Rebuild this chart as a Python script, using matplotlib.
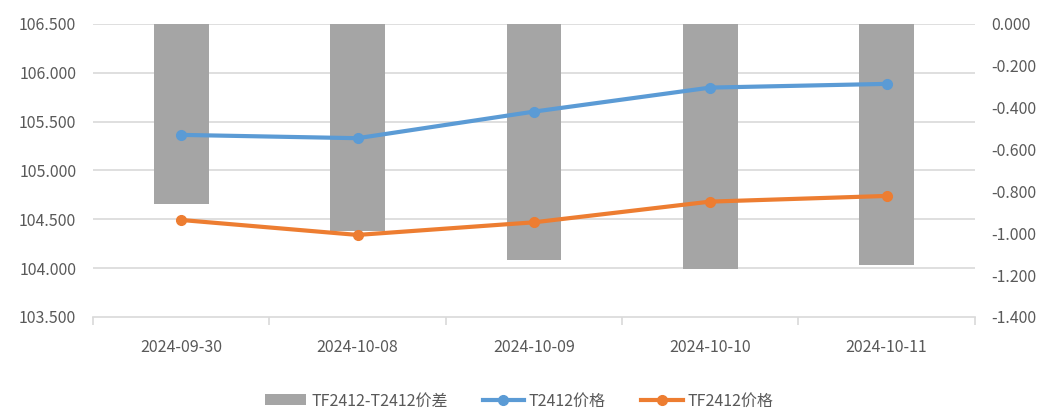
import matplotlib.pyplot as plt
from matplotlib.ticker import FormatStrFormatter, FuncFormatter, FixedLocator
import numpy as np

plt.rcParams['font.family'] = ['Noto Sans CJK SC', 'DejaVu Sans']

# data
dates = ['2024-09-30', '2024-10-08', '2024-10-09', '2024-10-10', '2024-10-11']
t_price = [105.364, 105.330, 105.602, 105.848, 105.886]
tf_price = [104.493, 104.340, 104.469, 104.681, 104.739]
spread = [-0.862, -0.990, -1.128, -1.170, -1.150]

grey_text = '#595959'
grid_col = '#d9d9d9'

fig = plt.figure(figsize=(10.38, 4.12), dpi=100)
ax = fig.add_axes([0.0896, 0.2306, 0.8494, 0.7114])
ax2 = ax.twinx()

x = np.arange(len(dates))

# bars on the right axis
ax2.bar(x, spread, width=0.31, color='#a5a5a5', label='TF2412-T2412价差', zorder=1)
ax2.set_ylim(-1.4, 0.0)
ax2.set_yticks(np.arange(-1.4, 0.001, 0.2))
ax2.yaxis.set_major_formatter(FuncFormatter(lambda v, p: '%.3f' % (0.0 if abs(v) < 1e-9 else v)))

# lines on the left axis (drawn above bars)
ax.set_zorder(ax2.get_zorder() + 1)
ax.patch.set_visible(False)
ax.plot(x, t_price, color='#5b9bd5', lw=3, marker='o', ms=7, label='T2412价格')
ax.plot(x, tf_price, color='#ed7d31', lw=3, marker='o', ms=7, label='TF2412价格')
ax.set_ylim(103.5, 106.5)
ax.set_yticks(np.arange(103.5, 106.51, 0.5))
ax.yaxis.set_major_formatter(FormatStrFormatter('%.3f'))

# gridlines from the left axis, behind everything
for v in np.arange(104.0, 106.51, 0.5):
    ax2.axhline(-1.4 + (v - 103.5) / 3.0 * 1.4, color=grid_col, lw=1.2, zorder=0)

ax.set_xlim(-0.5, len(dates) - 0.5)
ax.set_xticks(x)
ax.set_xticklabels(dates)
ax.xaxis.set_minor_locator(FixedLocator(np.arange(-0.5, len(dates), 1.0)))
ax.tick_params(axis='x', which='major', length=0, pad=16, labelsize=11.5, labelcolor=grey_text)
ax.tick_params(axis='x', which='minor', length=6, color=grid_col, width=1.2)
ax.tick_params(axis='y', length=0, pad=12, labelsize=11.5, labelcolor=grey_text)
ax2.tick_params(axis='y', length=0, pad=12, labelsize=11.5, labelcolor=grey_text)

for a in (ax, ax2):
    for s in a.spines.values():
        s.set_visible(False)
ax.spines['bottom'].set_visible(True)
ax.spines['bottom'].set_color(grid_col)
ax.spines['bottom'].set_linewidth(1.2)

h1, l1 = ax2.get_legend_handles_labels()
h2, l2 = ax.get_legend_handles_labels()
fig.legend(h1 + h2, l1 + l2, loc='center', bbox_to_anchor=(0.5, 0.027), ncol=3,
           frameon=False, fontsize=11.5, labelcolor=grey_text, handlelength=2.6,
           handletextpad=0.3, columnspacing=2.2)

fig.savefig('out.png', dpi=100)
